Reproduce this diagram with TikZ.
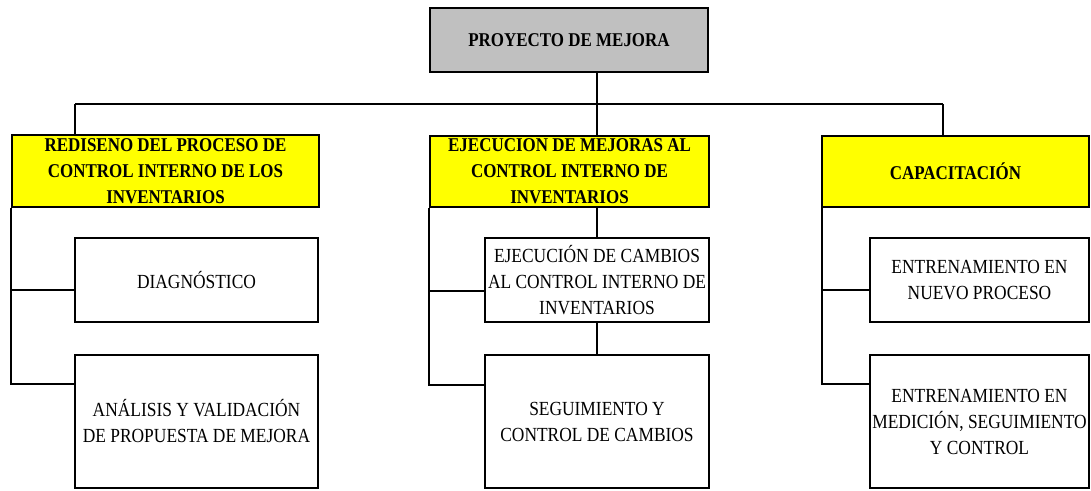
\documentclass[tikz,border=0pt]{standalone}
\usepackage{fontspec}
\setmainfont{Liberation Serif}[FakeStretch=0.87]
\usetikzlibrary{calc}
\definecolor{boxgrey}{RGB}{192,192,192}
\definecolor{boxyellow}{RGB}{255,255,0}
\tikzset{
  base/.style={draw=black, line width=1.8pt, inner sep=0pt, align=center,
    font=\fontsize{20}{26}\selectfont},
  topbox/.style={base, fill=boxgrey, font=\fontsize{19.5}{26}\selectfont\bfseries},
  headbox/.style={base, fill=boxyellow, font=\fontsize{19.5}{26}\selectfont\bfseries},
  taskbox/.style={base, fill=white},
  link/.style={draw=black, line width=1.8pt},
}
\begin{document}
\begin{tikzpicture}[x=1pt,y=-1pt]
\useasboundingbox (0,0) rectangle (1091,490);
% top
\node[topbox, minimum width=278pt, minimum height=64pt] (top) at (569,40) {PROYECTO DE MEJORA};
% headers
\node[headbox, minimum width=307pt, minimum height=72pt] (h1) at (165.5,171) {REDISENO DEL PROCESO DE\\CONTROL INTERNO DE LOS\\INVENTARIOS};
\node[headbox, minimum width=279pt, minimum height=71pt] (h2) at (569.5,171.5) {EJECUCION DE MEJORAS AL\\CONTROL INTERNO DE\\INVENTARIOS};
\node[headbox, minimum width=267pt, minimum height=71pt] (h3) at (955.5,171.5) {CAPACITACIÓN};
% tasks
\node[taskbox, minimum width=243pt, minimum height=84pt] (d1) at (196.5,280) {DIAGNÓSTICO};
\node[taskbox, minimum width=243pt, minimum height=133pt] (d2) at (196.5,421.5) {ANÁLISIS Y VALIDACIÓN\\DE PROPUESTA DE MEJORA};
\node[taskbox, minimum width=224pt, minimum height=84pt] (e1) at (597,280) {EJECUCIÓN DE CAMBIOS\\AL CONTROL INTERNO DE\\INVENTARIOS};
\node[taskbox, minimum width=224pt, minimum height=133pt] (e2) at (597,421.5) {SEGUIMIENTO Y\\CONTROL DE CAMBIOS};
\node[taskbox, minimum width=219pt, minimum height=84pt] (c1) at (979.5,280) {ENTRENAMIENTO EN\\NUEVO PROCESO};
\node[taskbox, minimum width=219pt, minimum height=133pt] (c2) at (979.5,421.5) {ENTRENAMIENTO EN\\MEDICIÓN, SEGUIMIENTO\\Y CONTROL};
% bus
\coordinate (busL) at (75,104);
\coordinate (tj) at (597,104);
\coordinate (busR) at (943,104);
\draw[link] (tj |- top.south) -- (tj);
\draw[link] (busL) -- (busR);
\draw[link] (busL) -- (busL |- h1.north);
\draw[link] (tj) -- (tj |- h2.north);
\draw[link] (busR) -- (busR |- h3.north);
% left branch
\draw[link] (h1.south west) |- ($(d1.west)+(0,10)$);
\draw[link] (h1.south west) |- ($(d2.north west)+(0,30)$);
% middle branch
\draw[link] (h2.south west) |- ($(e1.west)+(0,11)$);
\draw[link] (h2.south west) |- ($(e2.north west)+(0,31)$);
\draw[link] (h2.south -| e1.north) -- (e1.north);
\draw[link] (e1.south) -- (e2.north);
% right branch
\draw[link] ($(h3.south west)+(1,0)$) |- ($(c1.west)+(0,10)$);
\draw[link] ($(h3.south west)+(1,0)$) |- ($(c2.north west)+(0,30)$);
\end{tikzpicture}
\end{document}
